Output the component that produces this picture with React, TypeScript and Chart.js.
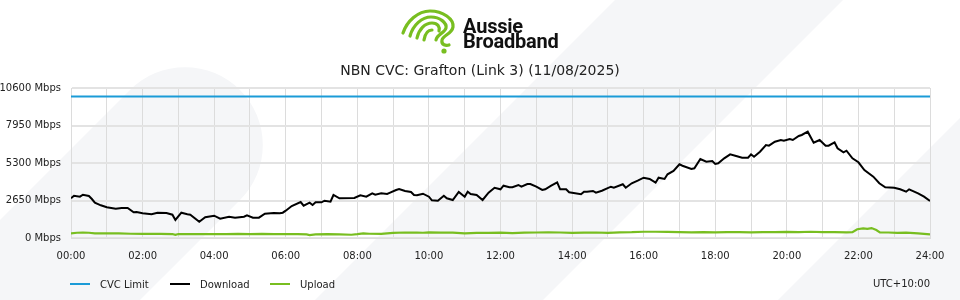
import React, { useEffect, useRef } from 'react';
import { Chart, registerables } from 'chart.js';

Chart.register(...registerables);

const chartTitle = 'NBN CVC: Grafton (Link 3) (11/08/2025)';
const brandLines = ['Aussie', 'Broadband'];
const timezoneLabel = 'UTC+10:00';
const seriesNames = ['CVC Limit', 'Download', 'Upload'];
const seriesColors = ['#1b9bd7', '#000000', '#78be20'];
const yTickValues = [0, 2650, 5300, 7950, 10600];
const xTickLabels = ['00:00', '02:00', '04:00', '06:00', '08:00', '10:00', '12:00', '14:00', '16:00', '18:00', '20:00', '22:00', '24:00'];
const cvcLimitMinutes = [0, 1440];
const cvcLimitMbps = [10000, 10000];

const downloadMinutes = [
  0, 5, 15, 20, 30, 35, 40, 50, 60, 75, 85, 95, 105, 110, 120, 135, 145, 160, 170, 175,
  185, 195, 200, 215, 225, 240, 250, 265, 275, 290, 295, 305, 315, 325, 340, 350, 355, 360, 370, 385,
  390, 400, 405, 410, 420, 425, 435, 440, 450, 475, 485, 495, 505, 510, 520, 530, 535, 545, 550, 560,
  570, 575, 580, 590, 600, 605, 615, 625, 630, 640, 650, 660, 665, 670, 680, 690, 700, 710, 720, 725,
  735, 740, 750, 755, 765, 770, 780, 790, 795, 805, 815, 820, 830, 835, 840, 855, 860, 865, 875, 880,
  890, 905, 910, 925, 930, 940, 950, 960, 970, 980, 985, 995, 1000, 1010, 1020, 1025, 1040, 1045, 1055, 1065,
  1075, 1080, 1085, 1095, 1105, 1115, 1125, 1135, 1140, 1145, 1155, 1165, 1170, 1180, 1190, 1195, 1205, 1210, 1220, 1225,
  1235, 1245, 1255, 1265, 1270, 1280, 1285, 1295, 1300, 1310, 1320, 1330, 1345, 1355, 1365, 1380, 1390, 1400, 1405, 1420,
  1430, 1440,
];
const downloadMbps = [
  2806, 2989, 2919, 3060, 2968, 2756, 2495, 2311, 2170, 2071, 2120, 2120, 1816, 1837, 1746, 1675, 1788, 1767, 1647, 1272,
  1788, 1675, 1647, 1152, 1463, 1576, 1364, 1505, 1435, 1505, 1604, 1435, 1435, 1717, 1767, 1746, 1788, 1929, 2261, 2544,
  2283, 2495, 2332, 2523, 2523, 2636, 2565, 3039, 2806, 2827, 3018, 2919, 3159, 3060, 3159, 3109, 3201, 3392, 3463, 3321,
  3251, 3039, 3018, 3131, 2919, 2664, 2636, 2989, 2806, 2685, 3251, 2919, 3272, 3109, 3039, 2685, 3201, 3550, 3442, 3696,
  3583, 3583, 3746, 3625, 3816, 3816, 3625, 3392, 3442, 3696, 3936, 3442, 3442, 3230, 3201, 3088, 3272, 3272, 3321, 3201,
  3343, 3625, 3555, 3795, 3555, 3866, 4049, 4261, 4170, 3908, 4261, 4170, 4502, 4735, 5208, 5109, 4876, 4926, 5583, 5392,
  5442, 5230, 5279, 5632, 5915, 5795, 5675, 5675, 5915, 5745, 6099, 6572, 6523, 6806, 6926, 6876, 6996, 6926, 7208, 7279,
  7512, 6735, 6926, 6523, 6523, 6763, 6339, 6056, 6170, 5632, 5350, 4806, 4332, 3866, 3583, 3555, 3442, 3272, 3442, 3159,
  2919, 2615,
];

const uploadMinutes = [
  0, 10, 20, 30, 40, 60, 80, 100, 120, 150, 170, 175, 180, 210, 240, 260, 280, 300, 320, 340,
  360, 380, 395, 400, 410, 430, 450, 470, 480, 490, 500, 520, 540, 560, 580, 590, 600, 620, 640, 660,
  680, 700, 720, 740, 760, 780, 800, 820, 840, 860, 880, 900, 920, 940, 960, 980, 1000, 1020, 1040, 1060,
  1080, 1100, 1120, 1140, 1160, 1180, 1200, 1220, 1240, 1260, 1280, 1300, 1310, 1318, 1328, 1335, 1342, 1350, 1356, 1370,
  1385, 1400, 1420, 1440,
];
const uploadMbps = [
  330, 370, 380, 370, 330, 320, 320, 300, 290, 290, 280, 220, 280, 280, 280, 270, 290, 280, 290, 270,
  280, 280, 260, 210, 260, 270, 250, 230, 270, 330, 300, 290, 360, 390, 380, 370, 400, 380, 380, 330,
  360, 360, 380, 350, 380, 390, 400, 390, 360, 380, 390, 360, 400, 410, 440, 440, 430, 420, 400, 410,
  400, 420, 420, 400, 420, 420, 430, 420, 440, 420, 410, 400, 410, 620, 680, 650, 700, 560, 400, 390,
  360, 380, 330, 260,
];

const FONT = 'DejaVu Sans';
const TEXT = '#222222';
const SHADE = '#f5f6f8';

const pairs = (xs: number[], ys: number[]) => xs.map((x, i) => ({ x, y: ys[i] }));

const backgroundPlugin = {
  id: 'bgShapes',
  beforeDraw(chart: any) {
    const { ctx, width, height } = chart;
    ctx.save();
    ctx.fillStyle = '#ffffff';
    ctx.fillRect(0, 0, width, height);
    ctx.fillStyle = SHADE;
    // rounded diagonal band on the left
    ctx.beginPath();
    ctx.moveTo(-80, 300);
    ctx.lineTo(130, 90);
    ctx.arc(185, 145, 77.8, -0.75 * Math.PI, 0.25 * Math.PI, false);
    ctx.lineTo(140, 300);
    ctx.closePath();
    ctx.fill();
    // middle diagonal band
    ctx.beginPath();
    ctx.moveTo(615, 0);
    ctx.lineTo(843, 0);
    ctx.lineTo(543, 300);
    ctx.lineTo(315, 300);
    ctx.closePath();
    ctx.fill();
    // bottom-right band
    ctx.beginPath();
    ctx.moveTo(960, 118);
    ctx.lineTo(960, 300);
    ctx.lineTo(778, 300);
    ctx.closePath();
    ctx.fill();
    ctx.restore();
  },
};

function Logo() {
  const green = seriesColors[2];
  return (
    <div style={{ position: 'absolute', left: 398, top: 8, width: 170, height: 50 }}>
      <svg width="60" height="48" viewBox="0 0 60 48" style={{ position: 'absolute', left: 0, top: 0 }}>
        <g fill="none" stroke={green} strokeWidth="3.2" strokeLinecap="round" strokeLinejoin="round">
          <path d="M5,25 C9,13 20,3 32,3 C45,3 56,11 55,19 C54,26 45,27 44,32 C43,37 48,38 51,37" />
          <path d="M12,28 C15,17 24,9 33,9 C42,9 49,15 48,20 C47,25 39,26 38,32" />
          <path d="M19,30 C21,21 27,15 34,15 C40,15 42,19 41,23" />
          <path d="M26,32 C27,26 30,22 34,22" />
        </g>
        <circle cx="46" cy="43" r="2.6" fill={green} />
      </svg>
      <div
        style={{
          position: 'absolute',
          left: 65,
          top: 11,
          fontFamily: 'Roboto',
          fontWeight: 700,
          fontSize: 20,
          lineHeight: '15px',
          color: '#111',
          letterSpacing: '-0.2px',
          whiteSpace: 'nowrap',
        }}
      >
        <div>{brandLines[0]}</div>
        <div>{brandLines[1]}</div>
      </div>
    </div>
  );
}

export default function App() {
  const canvasRef = useRef<HTMLCanvasElement>(null);

  useEffect(() => {
    const canvas = canvasRef.current;
    if (!canvas) return;
    const hourTicks: number[] = [];
    for (let h = 0; h <= 24; h++) hourTicks.push(h * 60);

    const chart = new Chart(canvas, {
      type: 'line',
      data: {
        datasets: [
          {
            label: seriesNames[0],
            data: pairs(cvcLimitMinutes, cvcLimitMbps),
            borderColor: seriesColors[0],
            backgroundColor: seriesColors[0],
            borderWidth: 2,
            pointRadius: 0,
          },
          {
            label: seriesNames[1],
            data: pairs(downloadMinutes, downloadMbps),
            borderColor: seriesColors[1],
            backgroundColor: seriesColors[1],
            borderWidth: 2,
            pointRadius: 0,
            tension: 0,
          },
          {
            label: seriesNames[2],
            data: pairs(uploadMinutes, uploadMbps),
            borderColor: seriesColors[2],
            backgroundColor: seriesColors[2],
            borderWidth: 2.2,
            pointRadius: 0,
            tension: 0,
          },
        ],
      },
      options: {
        animation: false,
        responsive: false,
        maintainAspectRatio: false,
        layout: { padding: { top: 88, right: 30, left: 0, bottom: 0 } },
        plugins: {
          legend: { display: false },
          title: { display: false },
          tooltip: { enabled: false },
        },
        scales: {
          x: {
            type: 'linear',
            min: 0,
            max: 1440,
            afterBuildTicks: (scale: any) => {
              scale.ticks = hourTicks.map((v) => ({ value: v }));
            },
            afterFit: (scale: any) => {
              scale.height = 62;
            },
            ticks: {
              autoSkip: false,
              maxRotation: 0,
              padding: 12,
              color: TEXT,
              font: { family: FONT, size: 10 },
              callback: (v: any) => {
                const n = Number(v);
                return n % 120 === 0 ? xTickLabels[n / 120] : '';
              },
            },
            grid: { color: '#dcdcdc', lineWidth: 1, drawTicks: false },
            border: { display: true, color: '#dcdcdc', width: 1 },
          },
          y: {
            min: 0,
            max: 10600,
            afterBuildTicks: (scale: any) => {
              scale.ticks = yTickValues.map((v) => ({ value: v }));
            },
            afterFit: (scale: any) => {
              scale.width = 71;
            },
            ticks: {
              padding: 10,
              color: TEXT,
              font: { family: FONT, size: 10 },
              callback: (v: any) => `${v} Mbps`,
            },
            grid: { color: '#e3e3e3', lineWidth: 2, drawTicks: false },
            border: { display: true, color: '#dcdcdc', width: 1 },
          },
        },
      },
      plugins: [backgroundPlugin],
    } as any);

    return () => chart.destroy();
  }, []);

  return (
    <div style={{ position: 'absolute', left: 0, top: 0, width: 960, height: 300, overflow: 'hidden', fontFamily: FONT, color: TEXT }}>
      <canvas ref={canvasRef} width={960} height={300} style={{ position: 'absolute', left: 0, top: 0, width: 960, height: 300 }} />
      <Logo />
      <div style={{ position: 'absolute', left: 0, top: 62, width: 960, textAlign: 'center', fontSize: 14, lineHeight: '16px' }}>
        {chartTitle}
      </div>
      <div style={{ position: 'absolute', left: 70, top: 277, height: 14, display: 'flex', alignItems: 'center', fontSize: 10 }}>
        {seriesNames.map((name, i) => (
          <div key={name} style={{ width: 100, display: 'flex', alignItems: 'center' }}>
            <span style={{ display: 'inline-block', width: 20, height: 2, background: seriesColors[i], marginRight: 10 }} />
            <span>{name}</span>
          </div>
        ))}
      </div>
      <div style={{ position: 'absolute', right: 30, top: 277, height: 14, lineHeight: '14px', fontSize: 10 }}>{timezoneLabel}</div>
    </div>
  );
}
